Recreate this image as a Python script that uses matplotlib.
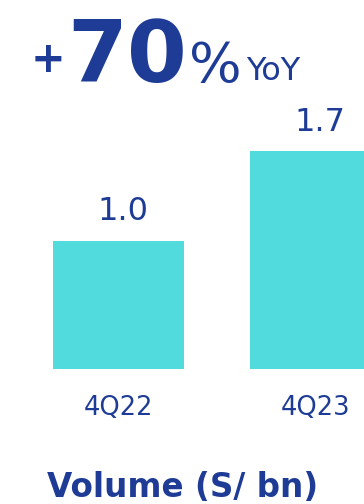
import matplotlib
matplotlib.use("Agg")
import matplotlib.pyplot as plt

# Quarterly volume (S/ bn)
quarters = ["4Q22", "4Q23"]
volume = [1.0, 1.7]
value_labels = ["1.0", "1.7"]
growth_label = "70"

BAR = "#52DBDD"
INK = "#1E3C96"
FONT = "DejaVu Sans"

W, H = 364, 504
fig = plt.figure(figsize=(W / 100, H / 100), dpi=100)

# Axes spans the full width; the second bar runs off the right edge
ax = fig.add_axes([0, 1 - 369 / H, 1, 369 / H])
px_per_cat = 197.0
ax.set_xlim(-118.5 / px_per_cat, (W - 118.5) / px_per_cat)
ax.set_ylim(0, 369 / 128)
xs = list(range(len(quarters)))
ax.bar(xs, volume, width=131 / px_per_cat, color=BAR, linewidth=0)
ax.axis("off")

for x, v, lab in zip(xs, volume, value_labels):
    ax.annotate(lab, (x, v), xytext=(3, 15), textcoords="offset points",
                ha="center", va="baseline", fontsize=23, color=INK,
                family=FONT)

for x, q in zip(xs, quarters):
    fx = (x * px_per_cat + 118.5) / W
    fig.text(fx, 1 - 415 / H, q, ha="center", va="baseline",
             fontsize=18.5, color=INK, family=FONT)

fig.text(183 / W, 1 - 497 / H, "Volume (S/ bn)", ha="center",
         va="baseline", fontsize=23.5, color=INK, family=FONT,
         fontweight="semibold")

# Headline growth figure
base = 1 - 82 / H
fig.text(31 / W, 1 - 72 / H, "+", ha="left", va="baseline", fontsize=30,
         fontweight="bold", color=INK, family=FONT)
fig.text(67 / W, base, growth_label, ha="left", va="baseline", fontsize=62,
         fontweight="bold", color=INK, family=FONT)
fig.text(189 / W, base, "%", ha="left", va="baseline", fontsize=40,
         color=INK, family=FONT)
fig.text(246 / W, 1 - 80 / H, "YoY", ha="left", va="baseline",
         fontsize=23, color=INK, family=FONT)

fig.savefig("out.png", dpi=100)
